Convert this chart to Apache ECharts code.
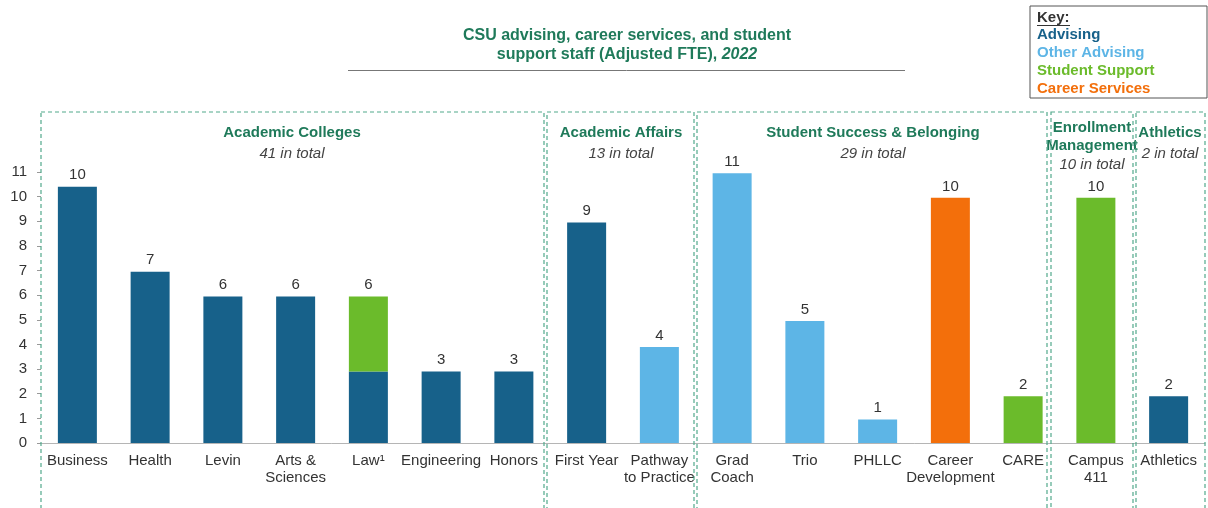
<!DOCTYPE html>
<html>
<head>
<meta charset="utf-8">
<script src="https://cdn.jsdelivr.net/npm/echarts@6/dist/echarts.min.js"></script>
<style>
  html, body { margin: 0; padding: 0; background: #fff; }
  #chart { width: 1208px; height: 508px; }
</style>
</head>
<body>
<div id="chart"></div>
<script>
// categories along the x axis
var categories = ['Business', 'Health', 'Levin', 'Arts &\nSciences', 'Law\u00b9', 'Engineering', 'Honors',
  'First Year', 'Pathway\nto Practice',
  'Grad\nCoach', 'Trio', 'PHLLC', 'Career\nDevelopment', 'CARE',
  'Campus\n411', 'Athletics'];

// staff by type (adjusted FTE)
var advising       = [10.4, 6.95, 5.95, 5.95, 2.9, 2.9, 2.9, 8.95, null, null, null, null, null, null, null, 1.9];
var otherAdvising  = [null, null, null, null, null, null, null, null, 3.9, 10.95, 4.95, 0.95, null, null, null, null];
var studentSupport = [null, null, null, null, 3.05, null, null, null, null, null, null, null, null, 1.9, 9.95, null];
var careerServices = [null, null, null, null, null, null, null, null, null, null, null, null, 9.95, null, null, null];

// rounded totals printed above each bar
var totalLabels = [10, 7, 6, 6, 6, 3, 3, 9, 4, 11, 5, 1, 10, 2, 10, 2];

// groups: name, total note
var groupNames  = ['Academic Colleges', 'Academic Affairs', 'Student Success & Belonging', 'Enrollment\nManagement', 'Athletics'];
var groupTotals = ['41 in total', '13 in total', '29 in total', '10 in total', '2 in total'];

var seriesNames = ['Advising', 'Other Advising', 'Student Support', 'Career Services'];
var seriesColors = ['#17618a', '#5db5e6', '#6bbb2b', '#f36f0b'];
var seriesData = [advising, otherAdvising, studentSupport, careerServices];

var green = '#1f7a5a';
var boxStroke = '#52a98c';

// the label goes on the topmost segment of each bar
function topSeriesIndex(i) {
  var top = -1;
  for (var s = 0; s < seriesData.length; s++) {
    if (seriesData[s][i] != null) top = s;
  }
  return top;
}

var series = [];
for (var s = 0; s < seriesData.length; s++) {
  var data = [];
  for (var i = 0; i < categories.length; i++) {
    var v = seriesData[s][i];
    data.push({
      value: v == null ? null : v,
      label: { show: v != null && topSeriesIndex(i) === s }
    });
  }
  series.push({
    name: seriesNames[s],
    type: 'bar',
    stack: 'fte',
    barWidth: 39,
    itemStyle: { color: seriesColors[s] },
    label: {
      position: 'top',
      distance: 4,
      color: '#333',
      fontSize: 15,
      fontFamily: 'Liberation Sans',
      formatter: function (p) { return totalLabels[p.dataIndex]; }
    },
    data: data
  });
}

// dashed group boxes (left, right edges in px)
var boxes = [[41, 544], [547, 694], [697, 1047], [1051, 1133], [1136, 1205]];
var groupCenters = [292, 621, 873, 1092, 1170];

var graphics = [];

graphics.push({
  type: 'text', x: 627, y: 26,
  style: {
    text: 'CSU advising, career services, and student\nsupport staff (Adjusted FTE), {i|2022}',
    fill: green, font: 'bold 16px "Liberation Sans"', align: 'center', lineHeight: 19,
    rich: { i: { fontStyle: 'italic', fontWeight: 'bold', fontSize: 16, fill: green } }
  }
});
graphics.push({
  type: 'line', shape: { x1: 348, y1: 70.5, x2: 905, y2: 70.5 },
  style: { stroke: '#777', lineWidth: 1 }
});

// key box
graphics.push({
  type: 'rect', shape: { x: 1030, y: 6, width: 177, height: 92 },
  style: { fill: '#fff', stroke: '#555', lineWidth: 1 }
});
graphics.push({
  type: 'text', x: 1037, y: 10,
  style: { text: 'Key:', fill: '#333', font: 'bold 15px "Liberation Sans"' }
});
graphics.push({
  type: 'line', shape: { x1: 1037, y1: 25.5, x2: 1070, y2: 25.5 },
  style: { stroke: '#333', lineWidth: 1 }
});
for (var k = 0; k < seriesNames.length; k++) {
  graphics.push({
    type: 'text', x: 1037, y: 27 + k * 18,
    style: { text: seriesNames[k], fill: seriesColors[k], font: 'bold 15px "Liberation Sans"' }
  });
}

for (var g = 0; g < boxes.length; g++) {
  graphics.push({
    type: 'rect', z: 10,
    shape: { x: boxes[g][0], y: 112, width: boxes[g][1] - boxes[g][0], height: 420 },
    style: { fill: 'none', stroke: boxStroke, lineWidth: 1.2, lineDash: [4, 3] }
  });
  var multi = groupNames[g].indexOf('\n') >= 0;
  graphics.push({
    type: 'text', x: groupCenters[g], y: multi ? 119 : 124,
    style: { text: groupNames[g], fill: green, font: 'bold 15px "Liberation Sans"', align: 'center', lineHeight: 18 }
  });
  graphics.push({
    type: 'text', x: groupCenters[g], y: multi ? 157 : 146,
    style: { text: groupTotals[g], fill: '#444', font: 'italic 15px "Liberation Sans"', align: 'center' }
  });
}

var chart = echarts.init(document.getElementById('chart'));
chart.setOption({
  animation: false,
  textStyle: { fontFamily: 'Liberation Sans' },
  grid: { left: 41, right: 3, top: 172, bottom: 65, containLabel: false },
  xAxis: {
    type: 'category',
    data: categories,
    axisLine: { lineStyle: { color: '#b5b5b5' } },
    axisTick: { show: false },
    axisLabel: { interval: 0, color: '#333', fontSize: 15, lineHeight: 17, margin: 9 }
  },
  yAxis: {
    type: 'value',
    min: 0, max: 11, interval: 1,
    axisLine: { show: false },
    axisTick: { show: true, length: 4, lineStyle: { color: '#999' } },
    splitLine: { show: false },
    axisLabel: { color: '#333', fontSize: 15, margin: 14 }
  },
  series: series,
  graphic: graphics
});
</script>
</body>
</html>
